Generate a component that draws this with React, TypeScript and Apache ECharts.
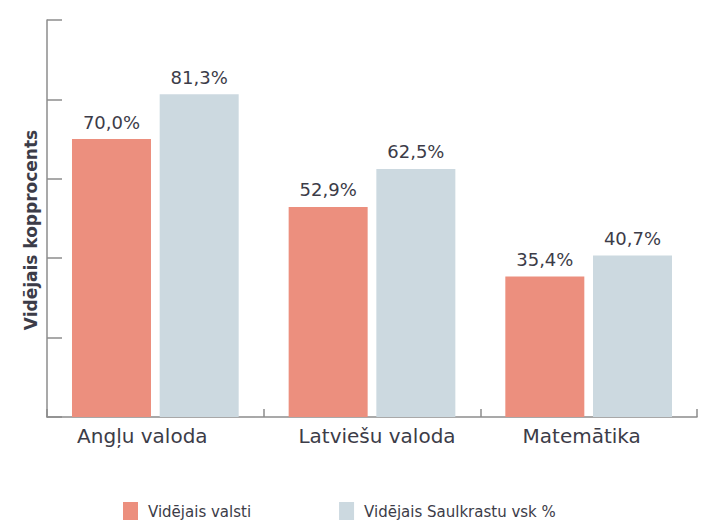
import React, { useEffect, useRef } from "react";
import * as echarts from "echarts";

const categories = ["Angļu valoda", "Latviešu valoda", "Matemātika"];
const seriesNames = ["Vidējais valsti", "Vidējais Saulkrastu vsk %"];
const valsti = [70.0, 52.9, 35.4];
const saulkrasti = [81.3, 62.5, 40.7];
const yTicks = [0, 20, 40, 60, 80, 100];

const FONT = "DejaVu Sans";
const TEXT = "#3c3c48";

export default function App() {
  const ref = useRef<HTMLDivElement>(null);
  useEffect(() => {
    if (!ref.current) return;
    const chart = echarts.init(ref.current, null, { renderer: "svg" });
    const fmt = (p: any) => Number(p.value).toFixed(1).replace(".", ",") + "%";
    chart.setOption({
      animation: false,
      backgroundColor: "#ffffff",
      textStyle: { fontFamily: FONT },
      grid: { left: 47, right: 12, top: 20, bottom: 103, containLabel: false },
      legend: {
        left: 118,
        top: 497,
        itemWidth: 15,
        itemHeight: 20,
        itemGap: 88,
        icon: "rect",
        textStyle: { fontFamily: FONT, fontSize: 15, color: TEXT, padding: [0, 0, 0, 5] },
        data: seriesNames,
      },
      xAxis: {
        type: "category",
        data: [
          { value: categories[0], textStyle: { padding: [0, 26, 0, 0] } },
          { value: categories[1], textStyle: { padding: [0, 0, 0, 10] } },
          { value: categories[2], textStyle: { padding: [0, 14, 0, 0] } },
        ],
        axisLine: { show: true, lineStyle: { color: "#8c8c8c", width: 1.5 } },
        axisTick: { show: true, inside: true, length: 8, lineStyle: { color: "#8c8c8c", width: 1.5 } },
        axisLabel: { fontFamily: FONT, fontSize: 20, color: TEXT, margin: 9 },
        splitLine: { show: false },
      },
      yAxis: {
        type: "value",
        min: yTicks[0],
        max: yTicks[yTicks.length - 1],
        interval: 20,
        axisLine: { show: true, lineStyle: { color: "#8c8c8c", width: 1.5 } },
        axisTick: { show: true, inside: true, length: 15, lineStyle: { color: "#8c8c8c", width: 1.5 } },
        axisLabel: { show: false },
        splitLine: { show: false },
      },
      graphic: [
        {
          type: "text",
          x: 31,
          y: 230,
          rotation: Math.PI / 2,
          style: {
            text: "Vidējais kopprocents",
            fontFamily: FONT,
            fontSize: 17,
            fontWeight: "bold",
            fill: TEXT,
            align: "center",
            verticalAlign: "middle",
          },
        },
      ],
      series: [
        {
          name: seriesNames[0],
          type: "bar",
          data: valsti,
          barWidth: 79,
          barGap: "11%",
          itemStyle: { color: "#ec8f7e" },
          label: {
            show: true,
            position: "top",
            distance: 8,
            formatter: fmt,
            fontFamily: FONT,
            fontSize: 18,
            color: TEXT,
          },
        },
        {
          name: seriesNames[1],
          type: "bar",
          data: saulkrasti,
          barWidth: 79,
          itemStyle: { color: "#ccd9e0" },
          label: {
            show: true,
            position: "top",
            distance: 8,
            formatter: fmt,
            fontFamily: FONT,
            fontSize: 18,
            color: TEXT,
          },
        },
      ],
    });
    return () => chart.dispose();
  }, []);
  return (
    <div
      ref={ref}
      style={{ position: "fixed", left: 0, top: 0, width: 709, height: 520, background: "#fff" }}
    />
  );
}
